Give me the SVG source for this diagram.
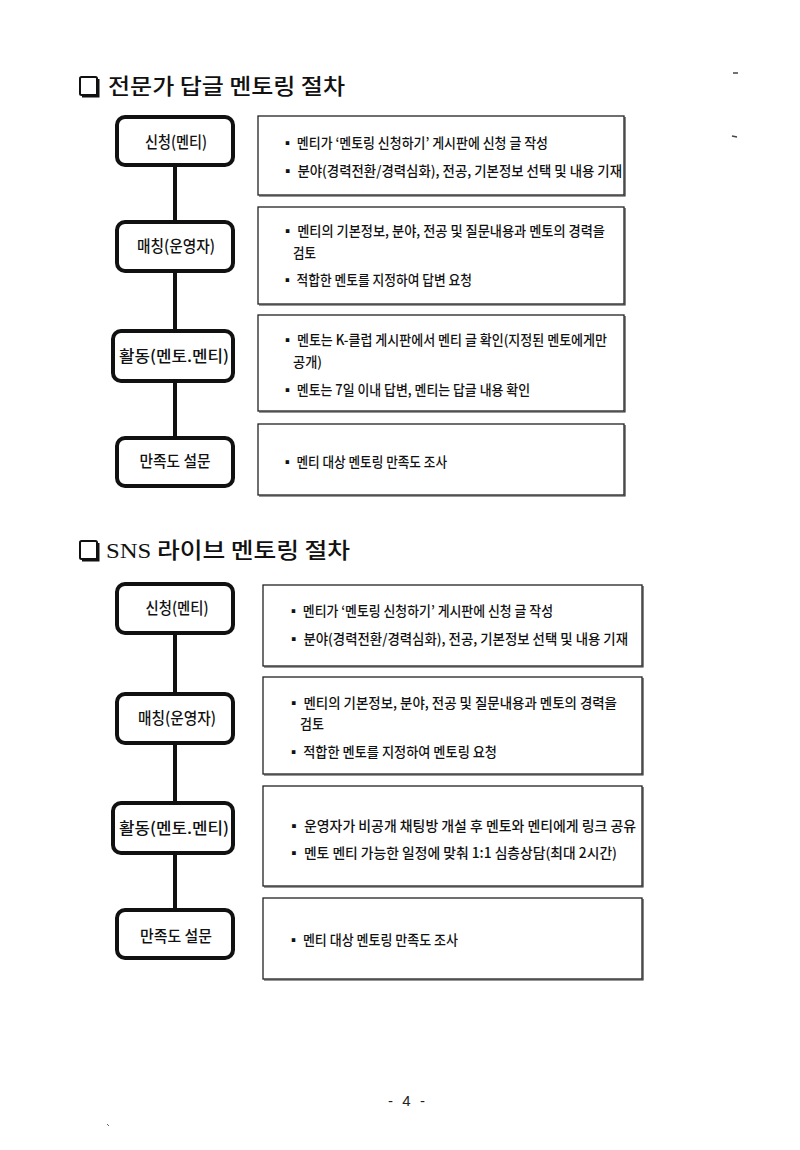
<svg xmlns="http://www.w3.org/2000/svg" width="800" height="1150" viewBox="0 0 800 1150">
<style>
.bg{fill:#fff}
.title{font-family:"Noto Sans CJK KR","Liberation Serif",serif;font-size:22px;font-weight:500;fill:#111}
.sns{font-family:"Liberation Serif",serif}
.chk{fill:#fff;stroke:#111;stroke-width:2}
.chks{fill:none;stroke:#111;stroke-width:3}
.step{fill:#fff;stroke:#111;stroke-width:4}
.lbl{font-family:"Noto Sans CJK KR","Liberation Sans",sans-serif;font-size:16px;font-weight:500;fill:#111;text-anchor:middle}
.desc{fill:#fff;stroke:#222;stroke-width:1.3}
.sh{fill:none;stroke:#333;stroke-width:1.2}
.txt{font-family:"Noto Sans CJK KR","Liberation Sans",sans-serif;font-size:14px;font-weight:500;fill:#111}
.conn{stroke:#111;stroke-width:4;fill:none}
.pg{font-family:"Liberation Sans",sans-serif;font-size:15px;fill:#222}
</style>
<rect class="bg" x="0" y="0" width="800" height="1150"/>

<g id="heading1">
<rect class="chk" x="80" y="77" width="17" height="18" rx="1.5"/>
<path class="chks" d="M82 96 H98 V79"/>
<text class="title" x="108" y="94" textLength="237" lengthAdjust="spacingAndGlyphs">전문가 답글 멘토링 절차</text>
</g>

<g id="connectors">
<line class="conn" x1="175" y1="165" x2="175" y2="438"/>
<line class="conn" x1="175" y1="633" x2="175" y2="910"/>
</g>

<!-- Section 1 steps -->
<g id="s1-step1">
<rect class="step" x="117" y="117" width="116" height="48" rx="8"/>
<text class="lbl" x="176" y="148" textLength="62" lengthAdjust="spacingAndGlyphs">신청(멘티)</text>
</g>
<g id="s1-step2">
<rect class="step" x="117" y="222" width="116" height="49" rx="8"/>
<text class="lbl" x="176" y="252" textLength="78" lengthAdjust="spacingAndGlyphs">매칭(운영자)</text>
</g>
<g id="s1-step3">
<rect class="step" x="113" y="331" width="120" height="50" rx="8"/>
<text class="lbl" x="174" y="362" textLength="110" lengthAdjust="spacingAndGlyphs">활동(멘토.멘티)</text>
</g>
<g id="s1-step4">
<rect class="step" x="117" y="438" width="116" height="48" rx="8"/>
<text class="lbl" x="175" y="467" textLength="71" lengthAdjust="spacingAndGlyphs">만족도 설문</text>
</g>

<g id="s1-desc1">
<rect class="desc" x="258" y="116" width="366" height="79"/>
<path class="sh" d="M259 196 H625 V117"/>
<text class="txt" x="281" y="148" textLength="267" lengthAdjust="spacingAndGlyphs">▪ 멘티가 ‘멘토링 신청하기’ 게시판에 신청 글 작성</text>
<text class="txt" x="281" y="176" textLength="341" lengthAdjust="spacingAndGlyphs">▪ 분야(경력전환/경력심화), 전공, 기본정보 선택 및 내용 기재</text>
</g>
<g id="s1-desc2">
<rect class="desc" x="258" y="207" width="366" height="97"/>
<path class="sh" d="M259 305 H625 V208"/>
<text class="txt" x="281" y="236" textLength="324" lengthAdjust="spacingAndGlyphs">▪ 멘티의 기본정보, 분야, 전공 및 질문내용과 멘토의 경력을</text>
<text class="txt" x="293" y="258" textLength="23" lengthAdjust="spacingAndGlyphs">검토</text>
<text class="txt" x="281" y="285" textLength="191" lengthAdjust="spacingAndGlyphs">▪ 적합한 멘토를 지정하여 답변 요청</text>
</g>
<g id="s1-desc3">
<rect class="desc" x="258" y="315" width="366" height="96"/>
<path class="sh" d="M259 412 H625 V316"/>
<text class="txt" x="281" y="345" textLength="326" lengthAdjust="spacingAndGlyphs">▪ 멘토는 K-클럽 게시판에서 멘티 글 확인(지정된 멘토에게만</text>
<text class="txt" x="293" y="367" textLength="29" lengthAdjust="spacingAndGlyphs">공개)</text>
<text class="txt" x="281" y="395" textLength="249" lengthAdjust="spacingAndGlyphs">▪ 멘토는 7일 이내 답변, 멘티는 답글 내용 확인</text>
</g>
<g id="s1-desc4">
<rect class="desc" x="258" y="424" width="366" height="71"/>
<path class="sh" d="M259 496 H625 V425"/>
<text class="txt" x="281" y="467" textLength="166" lengthAdjust="spacingAndGlyphs">▪ 멘티 대상 멘토링 만족도 조사</text>
</g>

<g id="heading2">
<rect class="chk" x="80" y="541" width="17" height="18" rx="1.5"/>
<path class="chks" d="M82 560 H98 V543"/>
<text class="title" x="106" y="558" textLength="244" lengthAdjust="spacingAndGlyphs"><tspan class="sns">SNS</tspan> 라이브 멘토링 절차</text>
</g>

<!-- Section 2 steps -->
<g id="s2-step1">
<rect class="step" x="117" y="584" width="116" height="49" rx="8"/>
<text class="lbl" x="177" y="614" textLength="63" lengthAdjust="spacingAndGlyphs">신청(멘티)</text>
</g>
<g id="s2-step2">
<rect class="step" x="117" y="694" width="116" height="49" rx="8"/>
<text class="lbl" x="177" y="724" textLength="78" lengthAdjust="spacingAndGlyphs">매칭(운영자)</text>
</g>
<g id="s2-step3">
<rect class="step" x="113" y="803" width="120" height="50" rx="8"/>
<text class="lbl" x="174" y="834" textLength="110" lengthAdjust="spacingAndGlyphs">활동(멘토.멘티)</text>
</g>
<g id="s2-step4">
<rect class="step" x="117" y="910" width="116" height="48" rx="8"/>
<text class="lbl" x="176" y="942" textLength="72" lengthAdjust="spacingAndGlyphs">만족도 설문</text>
</g>

<g id="s2-desc1">
<rect class="desc" x="263" y="585" width="379" height="81"/>
<path class="sh" d="M264 667 H643 V586"/>
<text class="txt" x="287" y="616" textLength="266" lengthAdjust="spacingAndGlyphs">▪ 멘티가 ‘멘토링 신청하기’ 게시판에 신청 글 작성</text>
<text class="txt" x="287" y="644" textLength="341" lengthAdjust="spacingAndGlyphs">▪ 분야(경력전환/경력심화), 전공, 기본정보 선택 및 내용 기재</text>
</g>
<g id="s2-desc2">
<rect class="desc" x="263" y="677" width="379" height="97"/>
<path class="sh" d="M264 775 H643 V678"/>
<text class="txt" x="287" y="708" textLength="330" lengthAdjust="spacingAndGlyphs">▪ 멘티의 기본정보, 분야, 전공 및 질문내용과 멘토의 경력을</text>
<text class="txt" x="300" y="729" textLength="24" lengthAdjust="spacingAndGlyphs">검토</text>
<text class="txt" x="287" y="757" textLength="210" lengthAdjust="spacingAndGlyphs">▪ 적합한 멘토를 지정하여 멘토링 요청</text>
</g>
<g id="s2-desc3">
<rect class="desc" x="263" y="786" width="379" height="100"/>
<path class="sh" d="M264 887 H643 V787"/>
<text class="txt" x="287" y="831" textLength="349" lengthAdjust="spacingAndGlyphs">▪ 운영자가 비공개 채팅방 개설 후 멘토와 멘티에게 링크 공유</text>
<text class="txt" x="287" y="858" textLength="330" lengthAdjust="spacingAndGlyphs">▪ 멘토 멘티 가능한 일정에 맞춰 1:1 심층상담(최대 2시간)</text>
</g>
<g id="s2-desc4">
<rect class="desc" x="263" y="898" width="379" height="81"/>
<path class="sh" d="M264 980 H643 V899"/>
<text class="txt" x="287" y="945" textLength="171" lengthAdjust="spacingAndGlyphs">▪ 멘티 대상 멘토링 만족도 조사</text>
</g>

<g id="footer">
<text class="pg" x="388" y="1106" textLength="37" lengthAdjust="spacing">- 4 -</text>
<line x1="733" y1="73" x2="738" y2="73" stroke="#444" stroke-width="1.5"/>
<line x1="732" y1="136" x2="737" y2="137" stroke="#444" stroke-width="1.5"/>
<line x1="107" y1="1124" x2="109" y2="1126" stroke="#666" stroke-width="1"/>
</g>
</svg>
